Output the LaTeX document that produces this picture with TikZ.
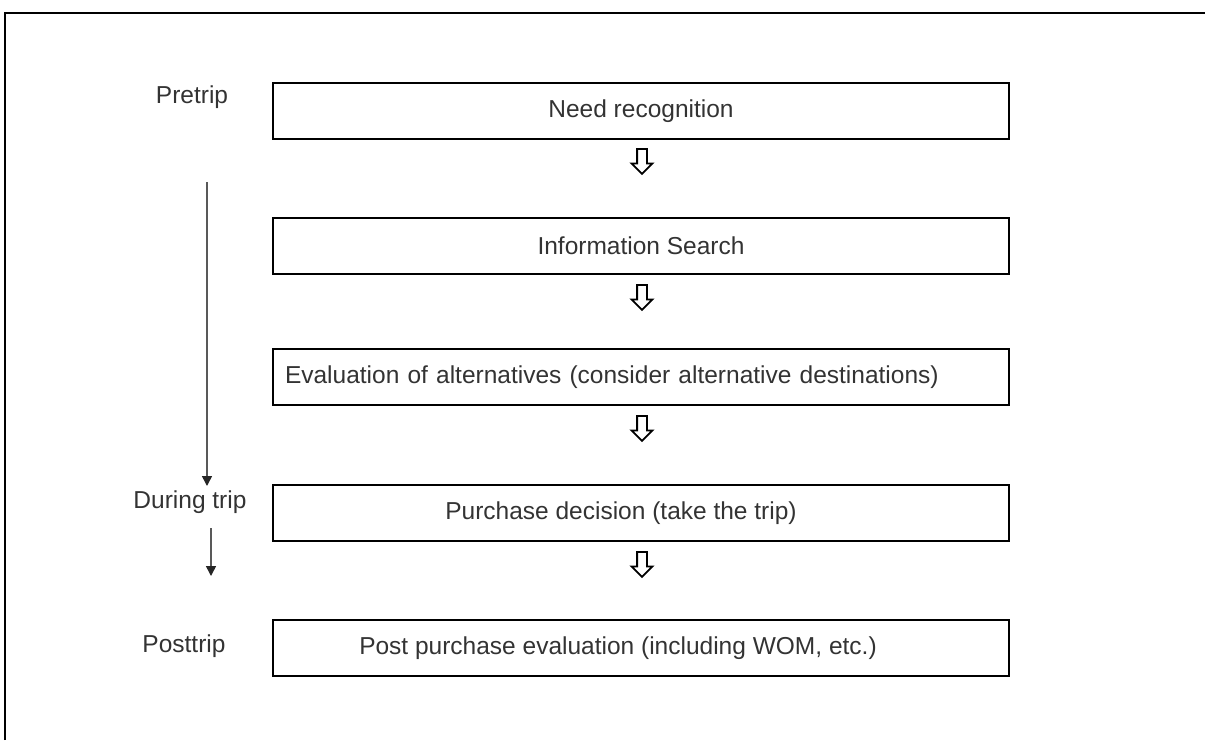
\documentclass[tikz,border=0pt]{standalone}
\usepackage{fontspec}
\setmainfont{Liberation Sans}
\usetikzlibrary{positioning,arrows.meta,shapes.arrows}

\begin{document}
\begin{tikzpicture}[x=1pt, y=-1pt, every node/.style={font=\fontsize{24.5}{29}\selectfont, text=black!80},
  stage/.style={draw, line width=2pt, minimum width=736pt, minimum height=56pt, inner sep=0pt},
  down/.style={single arrow, draw, line width=1.8pt, rotate=-90, minimum height=25pt, inner sep=4pt, single arrow head extend=5.5pt},
  flow/.style={draw=black!65, line width=1.5pt, -{Triangle[length=10pt, width=10pt, color=black!85]}}]
\useasboundingbox (0,0) rectangle (1205,740);
\draw[line width=2pt] (5,740) -- (5,13) -- (1205,13);
% stages
\node[stage] (need) at (641,111) {Need recognition};
\node[stage] (info) at (641,246) {Information Search};
\node[stage, text width=712pt, align=left, inner xsep=12pt] (eval) at (641,377) {Evaluation of alternatives (consider alternative destinations)};
\node[stage] (buy) at (641,513) {Purchase decision (take the trip)\hspace*{40pt}};
\node[stage] (post) at (641,648) {Post purchase evaluation (including WOM, etc.)\hspace*{46pt}};
\node[down] (d1) at (642,159) {};
\node[down] (d2) at (642,295) {};
\node[down] (d3) at (642,426) {};
\node[down] (d4) at (642,562) {};
% phases
\node (pretrip) at (192,97) {Pretrip};
\node (during) at (190,502) {During trip};
\node (posttrip) at (184,646) {Posttrip};
\coordinate (f1) at (207,182); \coordinate (f1e) at (207,486);
\coordinate (f2) at (211,528); \coordinate (f2e) at (211,576);
\draw[flow] (f1) -- (f1e);
\draw[flow] (f2) -- (f2e);
\end{tikzpicture}
\end{document}
